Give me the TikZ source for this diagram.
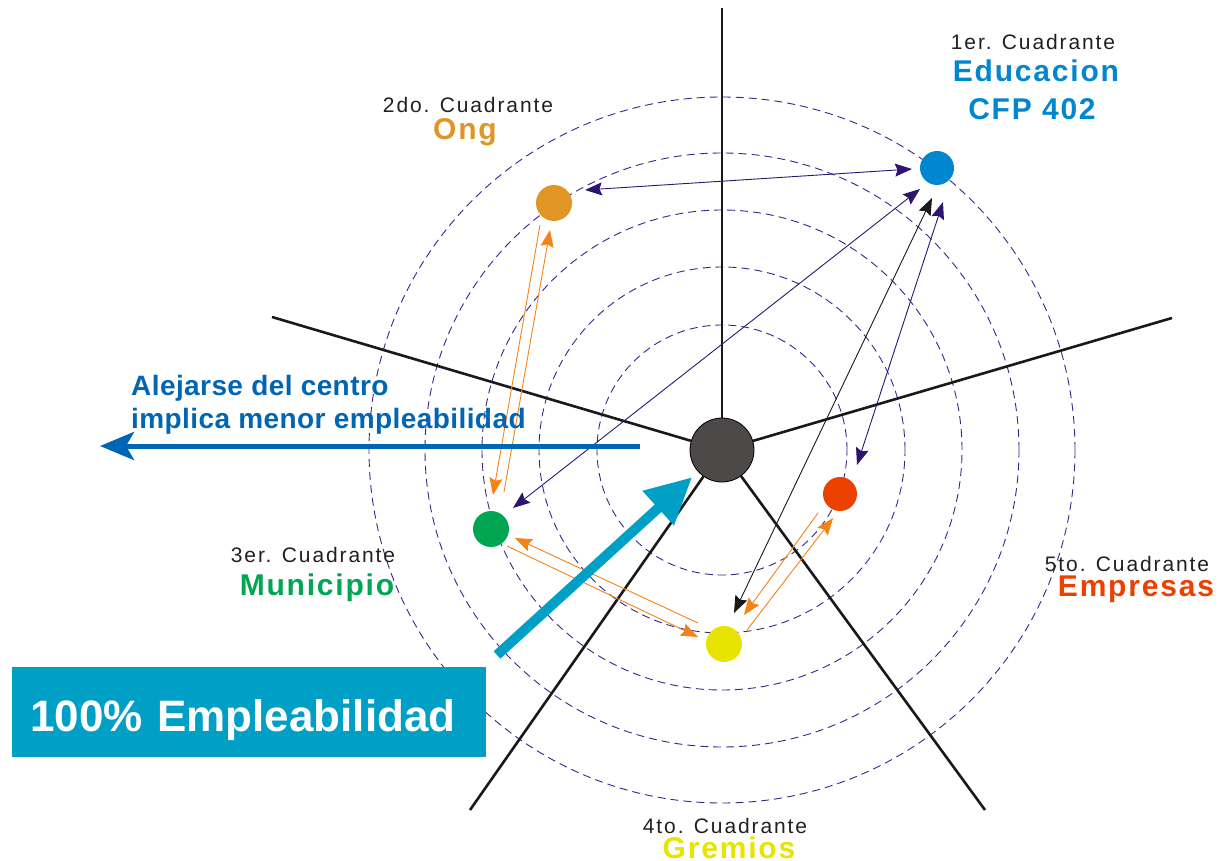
\documentclass[tikz,border=0pt]{standalone}
\usepackage{fontspec}
\setmainfont{Liberation Sans}
\newfontfamily\quadfont[LetterSpace=9]{Liberation Sans}
\newfontfamily\namefont[LetterSpace=6]{Liberation Sans}
\newfontfamily\farfont[LetterSpace=1.5]{Liberation Sans}
\usetikzlibrary{calc,arrows.meta}
\definecolor{ringpurple}{RGB}{58,36,140}
\definecolor{linkpurple}{RGB}{46,20,112}
\definecolor{linkorange}{RGB}{245,130,20}
\definecolor{edublue}{RGB}{0,135,207}
\definecolor{ongorange}{RGB}{224,149,36}
\definecolor{munigreen}{RGB}{0,166,81}
\definecolor{gremyellow}{RGB}{230,228,0}
\definecolor{emprred}{RGB}{236,64,0}
\definecolor{hubgray}{RGB}{77,73,73}
\definecolor{textblue}{RGB}{0,102,179}
\definecolor{boxcyan}{RGB}{0,160,198}
\definecolor{labelgray}{RGB}{35,31,32}
\tikzset{
>={Stealth[length=17pt,width=13pt,inset=2.5pt]},
  ring/.style={draw=ringpurple, line width=0.9pt, dash pattern=on 8pt off 5pt},
  spoke/.style={draw=black!90, line width=2.6pt},
  hub/.style={
    circle,
    draw=black, line width=0.8pt,
    fill=hubgray,
    minimum size=64pt,
    inner sep=0pt},
  actor/.style={circle, fill=#1, minimum size=36pt, inner sep=0pt},
  purplelink/.style={draw=linkpurple, line width=0.9pt, <->},
  blacklink/.style={draw=black!90, line width=0.9pt, <->},
  orangelink/.style={draw=linkorange, line width=0.9pt, ->},
  quadlabel/.style={anchor=base, inner sep=0pt, text=labelgray,
    font=\quadfont\fontsize{21}{24}\selectfont},
  actorname/.style={anchor=base, inner sep=0pt, text=#1,
    font=\namefont\bfseries\fontsize{30}{34}\selectfont},
  farnote/.style={anchor=base west, inner sep=0pt, text=textblue,
    font=\farfont\bfseries\fontsize{28}{33}\selectfont},
}

\begin{document}
\begin{tikzpicture}[x=1pt,y=-1pt]
  \useasboundingbox (0,0) rectangle (1227,861);

  \node[hub] (hub) at (722,450) {};
  \foreach \r in {125,183,240,297,353}
    \draw[ring] (hub.center) circle (\r pt);

  % quadrant borders
  \coordinate (ntop) at (722,8);
  \coordinate (nwest) at (272,317);
  \coordinate (neast) at (1172,318);
  \coordinate (nsw) at (470,810);
  \coordinate (nse) at (985,810);
  \foreach \e in {ntop,nwest,neast,nsw,nse}
    \draw[spoke] (hub) -- (\e);

  \node[actor=edublue, minimum size=34pt] (edu) at (937,168) {};
  \node[actor=ongorange] (ong) at (554,203) {};
  \node[actor=munigreen] (muni) at (491,529) {};
  \node[actor=gremyellow] (grem) at (724,644) {};
  \node[actor=emprred, minimum size=34pt] (empr) at (840,494) {};

  \draw[purplelink] ($(edu)+(-25,1)$) -- ($(ong)+(31,-13)$);
  \draw[purplelink] ($(edu)+(-17,21)$) -- ($(muni)+(22,-21)$);
  \draw[blacklink] ($(edu)+(-5,30)$) -- ($(grem)+(10,-31)$);
  \draw[purplelink] ($(edu)+(6,34)$) -- ($(empr)+(17,-29)$);
  \draw[orangelink] ($(ong)+(-14,22)$) -- ($(muni)+(2,-34)$);
  \draw[orangelink] ($(muni)+(13,-37)$) -- ($(ong)+(-4,27)$);
  \draw[orangelink] ($(grem)+(-26,-21)$) -- ($(muni)+(24,9)$);
  \draw[orangelink] ($(muni)+(16,17)$) -- ($(grem)+(-26,-7)$);
  \draw[orangelink] ($(empr)+(-22,19)$) -- ($(grem)+(20,-29)$);
  \draw[orangelink] ($(grem)+(23,-14)$) -- ($(empr)+(-7,24)$);

  % arrows of the legend
  \coordinate (pushtail) at (497,655);
  \draw[boxcyan, line width=10pt, shorten >=8pt,
    -{Triangle[length=46pt,width=44pt]}] (pushtail) -- (hub);
  \coordinate (awaystart) at (640,446);
  \coordinate (awayend) at (100,446);
  \draw[textblue, line width=5pt,
    -{Stealth[length=34pt,width=28pt,inset=8pt]}] (awaystart) -- (awayend);

  \node[farnote] (far1) at (131,395) {Alejarse del centro};
  \node[farnote] (far2) at (131,428) {implica menor empleabilidad};

  \node[fill=boxcyan, anchor=north west, minimum height=90pt,
    text width=438pt, inner xsep=18pt, inner ysep=0pt,
    text height=38pt, text depth=0pt, text=white,
    font=\bfseries\fontsize{44}{50}\selectfont] (full) at (12,667)
    {100\% Empleabilidad};

  \node[quadlabel] (q1) at (1033,50) {1er. Cuadrante};
  \node[actorname=edublue] (n1) at (1036,82) {Educacion};
  \node[actorname=edublue] (n1b) at (1032,120) {CFP 402};
  \node[quadlabel] (q2) at (468,113) {2do. Cuadrante};
  \node[actorname=ongorange] (n2) at (465,140) {Ong};
  \node[quadlabel] (q3) at (313,562) {3er. Cuadrante};
  \node[actorname=munigreen] (n3) at (317,595) {Municipio};
  \node[quadlabel] (q4) at (725,833) {4to. Cuadrante};
  \node[actorname=gremyellow] (n4) at (729,858) {Gremios};
  \node[quadlabel] (q5) at (1127,571) {5to. Cuadrante};
  \node[actorname=emprred] (n5) at (1136,596) {Empresas};
\end{tikzpicture}
\end{document}
